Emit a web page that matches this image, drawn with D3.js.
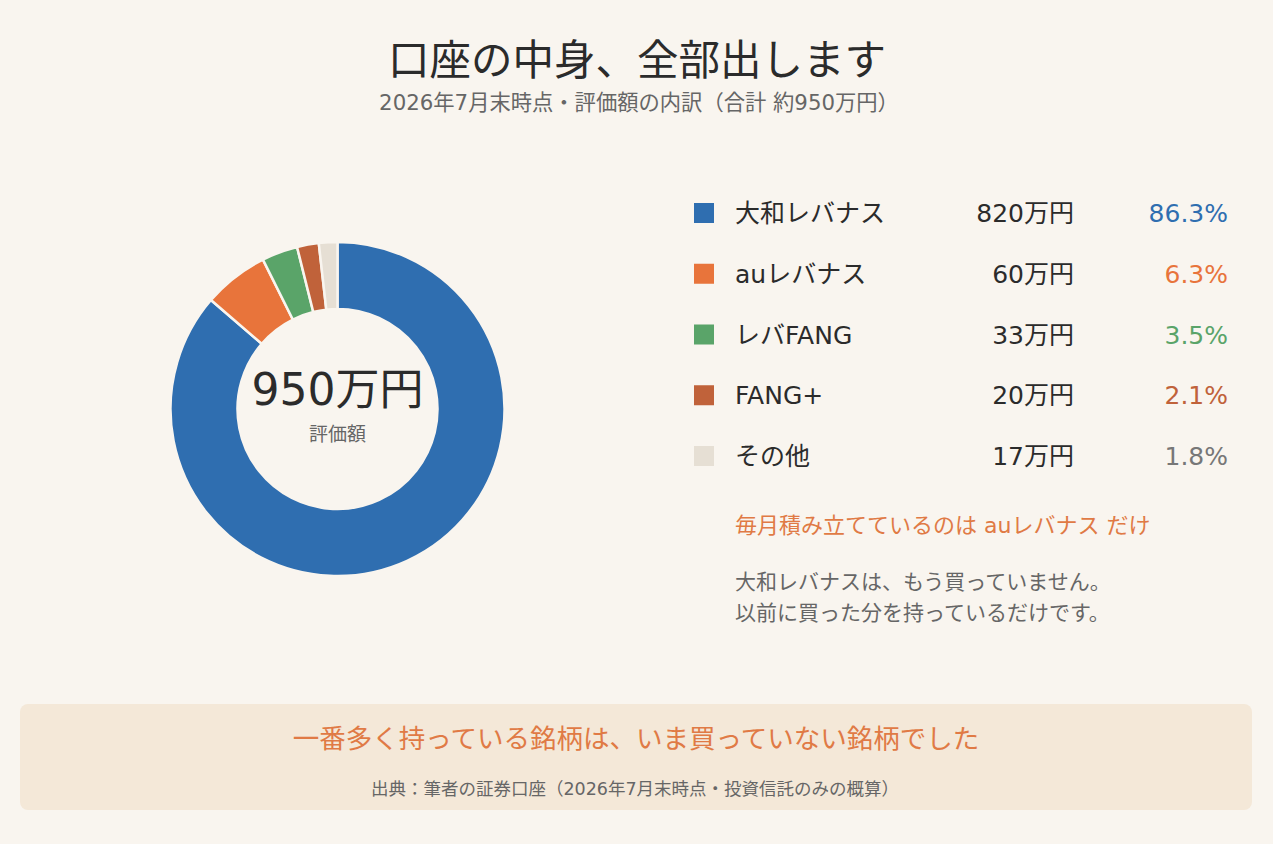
<!DOCTYPE html>
<html><head><meta charset="utf-8">
<script src="https://cdn.jsdelivr.net/npm/d3@7"></script>
<style>
html,body{margin:0;padding:0;background:#f9f5ef;}
svg{display:block;font-family:"DejaVu Sans","Noto Sans CJK JP",sans-serif;}
</style></head>
<body><svg id="c" width="1273" height="844"></svg>
<script>
const categories = ["大和レバナス","auレバナス","レバFANG","FANG+","その他"];
const values = [820, 60, 33, 20, 17];
const valueLabels = ["820万円","60万円","33万円","20万円","17万円"];
const pctLabels = ["86.3%","6.3%","3.5%","2.1%","1.8%"];
const colors = ["#2f6eb0","#e8743b","#5aa469","#c0623a","#e6dfd4"];
const pctColors = ["#2f6eb0","#e8743b","#5aa469","#c0623a","#777777"];

const svg = d3.select("#c");
svg.append("rect").attr("width",1273).attr("height",844).attr("fill","#f9f5ef");

svg.append("text").attr("x",637).attr("y",75).attr("text-anchor","middle")
  .attr("font-size",41.5).attr("fill","#2b2b2b").text("口座の中身、全部出します");
svg.append("text").attr("x",639).attr("y",110).attr("text-anchor","middle")
  .attr("font-size",21.3).attr("fill","#666").text("2026年7月末時点・評価額の内訳（合計 約950万円）");

const cx = 337.5, cy = 409;
const pie = d3.pie().sort(null).value(d=>d)(values);
const arc = d3.arc().innerRadius(100).outerRadius(167);
const g = svg.append("g").attr("transform",`translate(${cx},${cy})`);
g.selectAll("path").data(pie).join("path")
  .attr("d",arc).attr("fill",(d,i)=>colors[i])
  .attr("stroke","#f9f5ef").attr("stroke-width",2.5);
g.append("text").attr("y",-4).attr("text-anchor","middle").attr("font-size",44)
  .attr("fill","#2b2b2b").text("950万円");
g.append("text").attr("y",32).attr("text-anchor","middle").attr("font-size",19)
  .attr("fill","#666").text("評価額");

const y = d3.scalePoint().domain(categories).range([213,456]);
const leg = svg.append("g");
const rows = leg.selectAll("g").data(categories).join("g")
  .attr("transform",d=>`translate(0,${y(d)})`);
rows.append("rect").attr("x",694).attr("y",-10).attr("width",20).attr("height",20)
  .attr("fill",(d,i)=>colors[i]);
rows.append("text").attr("x",735).attr("y",9).attr("font-size",25).attr("fill","#2b2b2b").text(d=>d);
rows.append("text").attr("x",1074).attr("y",9).attr("text-anchor","end").attr("font-size",25)
  .attr("fill","#2b2b2b").text((d,i)=>valueLabels[i]);
rows.append("text").attr("x",1228).attr("y",9).attr("text-anchor","end").attr("font-size",25)
  .attr("fill",(d,i)=>pctColors[i]).text((d,i)=>pctLabels[i]);

svg.append("text").attr("x",735).attr("y",533).attr("font-size",22).attr("fill","#e07a45")
  .text("毎月積み立てているのは auレバナス だけ");
svg.append("text").attr("x",735).attr("y",589).attr("font-size",21).attr("fill","#666")
  .text("大和レバナスは、もう買っていません。");
svg.append("text").attr("x",735).attr("y",620).attr("font-size",21).attr("fill","#666")
  .text("以前に買った分を持っているだけです。");

svg.append("rect").attr("x",20).attr("y",704).attr("width",1232).attr("height",106).attr("rx",8)
  .attr("fill","#f4e8d8");
svg.append("text").attr("x",636).attr("y",748).attr("text-anchor","middle").attr("font-size",26.5)
  .attr("fill","#e07a45").text("一番多く持っている銘柄は、いま買っていない銘柄でした");
svg.append("text").attr("x",635).attr("y",795).attr("text-anchor","middle").attr("font-size",17.5)
  .attr("fill","#666").text("出典：筆者の証券口座（2026年7月末時点・投資信託のみの概算）");
</script></body></html>
